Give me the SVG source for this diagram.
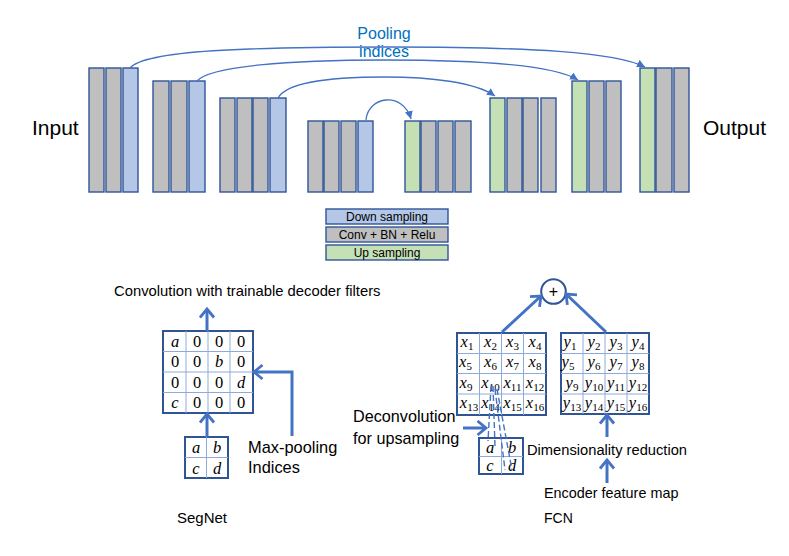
<svg xmlns="http://www.w3.org/2000/svg" width="789" height="556" viewBox="0 0 789 556">
<style>
.g{fill:#BFBFBF;stroke:#2F5597;stroke-width:1.4}
.d{fill:#B4C7E7;stroke:#2F5597;stroke-width:1.4}
.u{fill:#C5E0B4;stroke:#2F5597;stroke-width:1.4}
.arc{fill:none;stroke:#4472C4;stroke-width:1.3}
.ar{fill:none;stroke:#4472C4;stroke-width:3}
.dash{fill:none;stroke:#4472C4;stroke-width:1.4;stroke-dasharray:6 3}
.mb{fill:#fff;stroke:#2F5597;stroke-width:2}
.gl{stroke:#8EA9DB;stroke-width:1}
.t{font-family:"Liberation Sans",Arial,sans-serif;fill:#000}
.m{font-family:"Liberation Serif","Times New Roman",serif;font-size:16.5px;fill:#000;text-anchor:middle}
.i{font-style:italic}
.s{font-size:11px}
</style>
<defs>
<marker id="tri" markerUnits="userSpaceOnUse" markerWidth="10" markerHeight="10" refX="8" refY="4" orient="auto">
<path d="M0,0 L8,4 L0,8 z" fill="#4472C4"/>
</marker>
<marker id="v" markerUnits="userSpaceOnUse" markerWidth="14" markerHeight="18" refX="10.5" refY="8.5" orient="auto">
<path d="M2,1.5 L10.5,8.5 L2,15.5" fill="none" stroke="#4472C4" stroke-width="2.8"/>
</marker>
</defs>

<g id="title-pooling">
<text class="t" x="384" y="39" font-size="16" text-anchor="middle" style="fill:#0070C0">Pooling</text>
<text class="t" x="384" y="57" font-size="16" text-anchor="middle" style="fill:#0070C0">indices</text>
</g>
<g id="label-input"><text class="t" x="32" y="135" font-size="21">Input</text></g>
<g id="label-output"><text class="t" x="703" y="135" font-size="21">Output</text></g>

<g id="enc1">
<rect class="g" x="89" y="68" width="15" height="124"/>
<rect class="g" x="106" y="68" width="15" height="124"/>
<rect class="d" x="123" y="68" width="15" height="124"/>
</g>
<g id="enc2">
<rect class="g" x="153" y="81" width="16" height="111"/>
<rect class="g" x="171" y="81" width="16" height="111"/>
<rect class="d" x="189" y="81" width="16" height="111"/>
</g>
<g id="enc3">
<rect class="g" x="220" y="98" width="15" height="94"/>
<rect class="g" x="237" y="98" width="15" height="94"/>
<rect class="g" x="253" y="98" width="15" height="94"/>
<rect class="d" x="270" y="98" width="16" height="94"/>
</g>
<g id="enc4">
<rect class="g" x="308" y="121" width="15" height="71"/>
<rect class="g" x="324" y="121" width="15" height="71"/>
<rect class="g" x="341" y="121" width="15" height="71"/>
<rect class="d" x="358" y="121" width="15" height="71"/>
</g>
<g id="dec4">
<rect class="u" x="405" y="121" width="15" height="71"/>
<rect class="g" x="421" y="121" width="15" height="71"/>
<rect class="g" x="438" y="121" width="15" height="71"/>
<rect class="g" x="455" y="121" width="16" height="71"/>
</g>
<g id="dec3">
<rect class="u" x="490" y="98" width="15" height="94"/>
<rect class="g" x="507" y="98" width="15" height="94"/>
<rect class="g" x="523" y="98" width="15" height="94"/>
<rect class="g" x="541" y="98" width="15" height="94"/>
</g>
<g id="dec2">
<rect class="u" x="572" y="81" width="15" height="111"/>
<rect class="g" x="589" y="81" width="15" height="111"/>
<rect class="g" x="606" y="81" width="15" height="111"/>
</g>
<g id="dec1">
<rect class="u" x="640" y="68" width="15" height="124"/>
<rect class="g" x="656" y="68" width="16" height="124"/>
<rect class="g" x="674" y="68" width="15" height="124"/>
</g>

<g id="legend">
<rect class="d" x="326" y="209" width="122" height="15"/>
<rect class="g" x="326" y="227" width="122" height="15"/>
<rect class="u" x="326" y="245" width="122" height="15"/>
<text class="t" x="387" y="220.5" font-size="12" text-anchor="middle">Down sampling</text>
<text class="t" x="387" y="238.5" font-size="12" text-anchor="middle">Conv + BN + Relu</text>
<text class="t" x="387" y="256.5" font-size="12" text-anchor="middle">Up sampling</text>
</g>

<g id="segnet-unpooled">
<rect class="mb" x="163" y="331" width="90" height="82"/>
<line class="gl" x1="186" y1="331" x2="186" y2="413"/>
<line class="gl" x1="208" y1="331" x2="208" y2="413"/>
<line class="gl" x1="230" y1="331" x2="230" y2="413"/>
<line class="gl" x1="163" y1="351.5" x2="253" y2="351.5"/>
<line class="gl" x1="163" y1="372" x2="253" y2="372"/>
<line class="gl" x1="163" y1="392.5" x2="253" y2="392.5"/>
<text class="m i" x="175" y="346.5">a</text><text class="m" x="197" y="346.5">0</text><text class="m" x="219" y="346.5">0</text><text class="m" x="241" y="346.5">0</text>
<text class="m" x="175" y="367">0</text><text class="m" x="197" y="367">0</text><text class="m i" x="219" y="367">b</text><text class="m" x="241" y="367">0</text>
<text class="m" x="175" y="387.5">0</text><text class="m" x="197" y="387.5">0</text><text class="m" x="219" y="387.5">0</text><text class="m i" x="241" y="387.5">d</text>
<text class="m i" x="175" y="408">c</text><text class="m" x="197" y="408">0</text><text class="m" x="219" y="408">0</text><text class="m" x="241" y="408">0</text>
</g>
<g id="segnet-pooled">
<rect class="mb" x="185" y="437" width="43" height="41"/>
<line class="gl" x1="206.5" y1="437" x2="206.5" y2="478"/>
<line class="gl" x1="185" y1="457.5" x2="228" y2="457.5"/>
<text class="m i" x="196" y="453">a</text><text class="m i" x="217" y="453">b</text>
<text class="m i" x="196" y="473.5">c</text><text class="m i" x="217" y="473.5">d</text>
</g>
<g id="segnet-labels">
<text class="t" x="114" y="296" font-size="14.8">Convolution with trainable decoder filters</text>
<text class="t" x="248" y="453" font-size="16.4">Max-pooling</text>
<text class="t" x="248" y="473" font-size="16.4">Indices</text>
<text class="t" x="177" y="523" font-size="15">SegNet</text>
</g>

<g id="fcn-sum">
<circle cx="553.5" cy="291.5" r="12.3" fill="#fff" stroke="#2F5597" stroke-width="2"/>
<text class="t" x="553.5" y="297" font-size="16" text-anchor="middle">+</text>
</g>

<g id="fcn-x">
<rect class="mb" x="457" y="333" width="89" height="82"/>
<line class="gl" x1="479.5" y1="333" x2="479.5" y2="415"/>
<line class="gl" x1="501.5" y1="333" x2="501.5" y2="415"/>
<line class="gl" x1="523.5" y1="333" x2="523.5" y2="415"/>
<line class="gl" x1="457" y1="353.5" x2="546" y2="353.5"/>
<line class="gl" x1="457" y1="373.5" x2="546" y2="373.5"/>
<line class="gl" x1="457" y1="394" x2="546" y2="394"/>
<text class="m" x="467" y="347"><tspan class="i">x</tspan><tspan class="s" dy="3">1</tspan></text>
<text class="m" x="490.5" y="347"><tspan class="i">x</tspan><tspan class="s" dy="3">2</tspan></text>
<text class="m" x="512.5" y="347"><tspan class="i">x</tspan><tspan class="s" dy="3">3</tspan></text>
<text class="m" x="535" y="347"><tspan class="i">x</tspan><tspan class="s" dy="3">4</tspan></text>
<text class="m" x="465.5" y="367"><tspan class="i">x</tspan><tspan class="s" dy="3">5</tspan></text>
<text class="m" x="490.5" y="367"><tspan class="i">x</tspan><tspan class="s" dy="3">6</tspan></text>
<text class="m" x="512.5" y="367"><tspan class="i">x</tspan><tspan class="s" dy="3">7</tspan></text>
<text class="m" x="535" y="367"><tspan class="i">x</tspan><tspan class="s" dy="3">8</tspan></text>
<text class="m" x="466" y="387.5"><tspan class="i">x</tspan><tspan class="s" dy="3">9</tspan></text>
<text class="m" x="490.5" y="387.5"><tspan class="i">x</tspan><tspan class="s" dy="3">10</tspan></text>
<text class="m" x="512.5" y="387.5"><tspan class="i">x</tspan><tspan class="s" dy="3">11</tspan></text>
<text class="m" x="535" y="387.5"><tspan class="i">x</tspan><tspan class="s" dy="3">12</tspan></text>
<text class="m" x="469" y="408"><tspan class="i">x</tspan><tspan class="s" dy="3">13</tspan></text>
<text class="m" x="490.5" y="408"><tspan class="i">x</tspan><tspan class="s" dy="3">14</tspan></text>
<text class="m" x="512.5" y="408"><tspan class="i">x</tspan><tspan class="s" dy="3">15</tspan></text>
<text class="m" x="535" y="408"><tspan class="i">x</tspan><tspan class="s" dy="3">16</tspan></text>
</g>

<g id="fcn-y">
<rect class="mb" x="561" y="333" width="88" height="81"/>
<line class="gl" x1="583" y1="333" x2="583" y2="414"/>
<line class="gl" x1="605" y1="333" x2="605" y2="414"/>
<line class="gl" x1="627" y1="333" x2="627" y2="414"/>
<line class="gl" x1="561" y1="353.5" x2="649" y2="353.5"/>
<line class="gl" x1="561" y1="373.5" x2="649" y2="373.5"/>
<line class="gl" x1="561" y1="394" x2="649" y2="394"/>
<text class="m" x="570" y="347"><tspan class="i">y</tspan><tspan class="s" dy="3">1</tspan></text>
<text class="m" x="594" y="347"><tspan class="i">y</tspan><tspan class="s" dy="3">2</tspan></text>
<text class="m" x="616" y="347"><tspan class="i">y</tspan><tspan class="s" dy="3">3</tspan></text>
<text class="m" x="638" y="347"><tspan class="i">y</tspan><tspan class="s" dy="3">4</tspan></text>
<text class="m" x="568" y="367"><tspan class="i">y</tspan><tspan class="s" dy="3">5</tspan></text>
<text class="m" x="594" y="367"><tspan class="i">y</tspan><tspan class="s" dy="3">6</tspan></text>
<text class="m" x="616" y="367"><tspan class="i">y</tspan><tspan class="s" dy="3">7</tspan></text>
<text class="m" x="638" y="367"><tspan class="i">y</tspan><tspan class="s" dy="3">8</tspan></text>
<text class="m" x="572" y="387.5"><tspan class="i">y</tspan><tspan class="s" dy="3">9</tspan></text>
<text class="m" x="594" y="387.5"><tspan class="i">y</tspan><tspan class="s" dy="3">10</tspan></text>
<text class="m" x="616" y="387.5"><tspan class="i">y</tspan><tspan class="s" dy="3">11</tspan></text>
<text class="m" x="638" y="387.5"><tspan class="i">y</tspan><tspan class="s" dy="3">12</tspan></text>
<text class="m" x="572" y="408"><tspan class="i">y</tspan><tspan class="s" dy="3">13</tspan></text>
<text class="m" x="594" y="408"><tspan class="i">y</tspan><tspan class="s" dy="3">14</tspan></text>
<text class="m" x="616" y="408"><tspan class="i">y</tspan><tspan class="s" dy="3">15</tspan></text>
<text class="m" x="638" y="408"><tspan class="i">y</tspan><tspan class="s" dy="3">16</tspan></text>
</g>

<g id="fcn-small">
<rect class="mb" x="479" y="438" width="44" height="36"/>
<line class="gl" x1="501.5" y1="438" x2="501.5" y2="474"/>
<line class="gl" x1="479" y1="456.5" x2="523" y2="456.5"/>
<text class="m i" x="490" y="452.5">a</text><text class="m i" x="512" y="452.5">b</text>
<text class="m i" x="490" y="471">c</text><text class="m i" x="512" y="471">d</text>
</g>

<g id="fcn-labels">
<text class="t" x="353" y="422" font-size="16.2">Deconvolution</text>
<text class="t" x="353" y="443.5" font-size="16.2">for upsampling</text>
<text class="t" x="527" y="455" font-size="14.7">Dimensionality reduction</text>
<text class="t" x="544" y="497.5" font-size="14.4">Encoder feature map</text>
<text class="t" x="544" y="522.5" font-size="14">FCN</text>
</g>

<g id="connectors">
<path class="arc" d="M130,68 C145,50 250,47 390,47 C530,47 615,52 645,67" marker-end="url(#tri)"/>
<path class="arc" d="M197,81 C210,66 290,60 385,60 C480,60 555,66 578,80" marker-end="url(#tri)"/>
<path class="arc" d="M278,98 C288,80 340,77 385,77 C430,77 475,82 495,96" marker-end="url(#tri)"/>
<path class="arc" d="M366,120 C368,96 403,91 411,119" marker-end="url(#tri)"/>

<line class="ar" x1="207" y1="331" x2="207" y2="309" marker-end="url(#v)"/>
<line class="ar" x1="207" y1="437" x2="207" y2="414" marker-end="url(#v)"/>
<path class="ar" d="M292,436 L292,372 L254,372" marker-end="url(#v)"/>

<line class="ar" x1="502" y1="332" x2="541" y2="296" marker-end="url(#v)"/>
<line class="ar" x1="606" y1="332" x2="566" y2="294" marker-end="url(#v)"/>
<line class="ar" x1="607" y1="437" x2="607" y2="415" marker-end="url(#v)"/>
<line class="ar" x1="607" y1="483" x2="607" y2="460" marker-end="url(#v)"/>
<line class="ar" x1="463" y1="428" x2="486" y2="428" marker-end="url(#v)"/>

<line class="dash" x1="491" y1="386" x2="488" y2="441"/>
<line class="dash" x1="493" y1="386" x2="495" y2="446"/>
<line class="dash" x1="495" y1="389" x2="505" y2="470"/>
<line class="dash" x1="497" y1="389" x2="512" y2="470"/>
</g>
</svg>
